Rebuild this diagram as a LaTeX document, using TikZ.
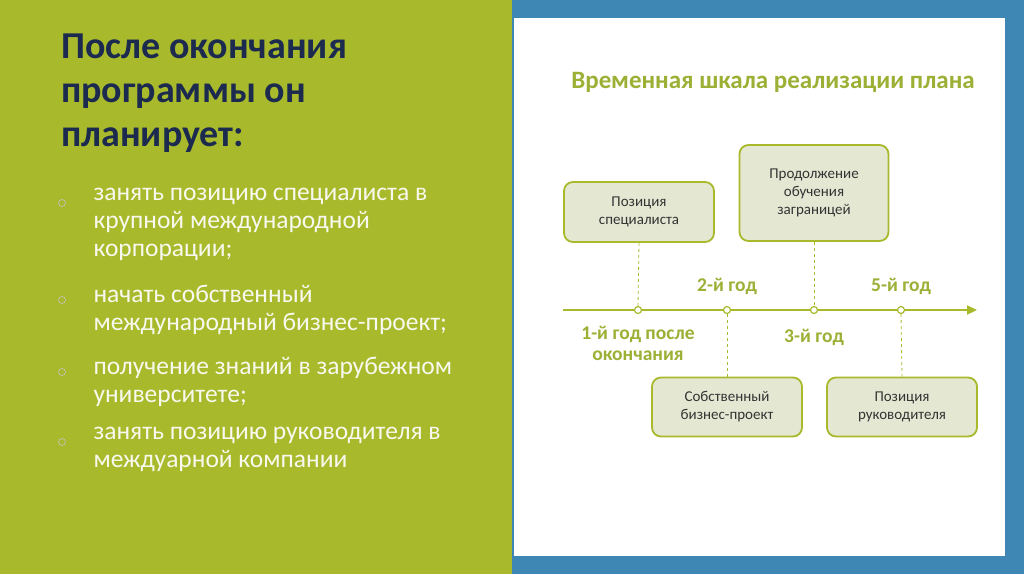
\documentclass[tikz,border=0pt]{standalone}
\usepackage{fontspec}
\setmainfont{Carlito}
\usetikzlibrary{arrows.meta}
\definecolor{lg}{HTML}{A8BA2C}
\definecolor{bl}{HTML}{3E86B3}
\definecolor{nv}{HTML}{1B2A4E}
\definecolor{bx}{HTML}{E4E8D3}
\definecolor{lbl}{HTML}{9BB034}
\tikzset{
 tbox/.style={draw=lg,line width=1.8pt,fill=bx,rounded corners=9pt,align=center,font=\fontsize{15}{18}\selectfont,text=black!80},
 yr/.style={text=lbl,font=\bfseries\fontsize{19.5}{21}\selectfont,align=center},
 dsh/.style={lg,dashed,line width=0.8pt},
 dot/.style={circle,draw=lg,fill=white,line width=1.2pt,inner sep=0pt,minimum size=7pt},
 bul/.style={anchor=north west,text=white!92!lg,font=\fontsize{25.5}{28}\selectfont,align=left},
 bm/.style={circle,draw=gray!45,line width=0.6pt,inner sep=0pt,minimum size=7pt}
}
\begin{document}
\begin{tikzpicture}[x=1pt,y=-1pt]
\useasboundingbox (0,0) rectangle (1024,574);
\fill[lg] (0,0) rectangle (512,574);
\fill[bl] (512,0) rectangle (1024,574);
\fill[white] (514,18) rectangle (1005,556);
\node[anchor=north west,text=nv,font=\bfseries\fontsize{38}{44}\selectfont,align=left,inner sep=0pt] (t) at (61,34) {После окончания\\программы он\\планирует:};
\node[bm] (b1) at (62,203) {};
\node[bul] (p1) at (90,185) {занять позицию специалиста в\\крупной международной\\корпорации;};
\node[bm] (b2) at (62,300) {};
\node[bul] (p2) at (90,282) {начать собственный\\международный бизнес-проект;};
\node[bm] (b3) at (62,372) {};
\node[bul] (p3) at (90,354) {получение знаний в зарубежном\\университете;};
\node[bm] (b4) at (62,442) {};
\node[bul] (p4) at (90,424) {занять позицию руководителя в\\междуарной компании};
\node[text=lbl,font=\bfseries\fontsize{25}{28}\selectfont] (h) at (773,82) {Временная шкала реализации плана};
\node[tbox,minimum width=150pt,minimum height=60pt] (k1) at (639,212) {Позиция\\специалиста};
\node[tbox,minimum width=149pt,minimum height=96pt] (k2) at (814,193) {Продолжение\\обучения\\заграницей};
\node[tbox,minimum width=150pt,minimum height=59pt] (k3) at (727,407) {Собственный\\бизнес-проект};
\node[tbox,minimum width=150pt,minimum height=59pt] (k4) at (902,407) {Позиция\\руководителя};
\coordinate (a0) at (563,310);
\coordinate (a1) at (977,310);
\draw[lg,line width=2pt,-{Triangle[length=10pt,width=9pt]}] (a0) -- (a1);
\node[dot] (d1) at (638,310) {};
\node[dot] (d2) at (727,310) {};
\node[dot] (d3) at (814,310) {};
\node[dot] (d4) at (901,310) {};
\draw[dsh] (k1.south) -- (d1.north);
\draw[dsh] (k2.south) -- (d3.north);
\draw[dsh] (d2.south) -- (k3.north);
\draw[dsh] (d4.south) -- (k4.north);
\node[yr] (y2) at (727,286) {2-й год};
\node[yr] (y5) at (901,286) {5-й год};
\node[yr] (y1) at (638,343) {1-й год после\\окончания};
\node[yr] (y3) at (814,337) {3-й год};
\end{tikzpicture}
\end{document}
